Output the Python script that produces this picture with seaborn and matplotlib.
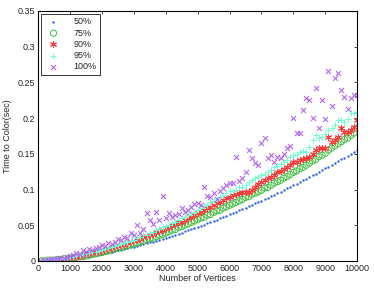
import matplotlib
matplotlib.use("Agg")
import matplotlib.pyplot as plt
import seaborn as sns
import pandas as pd

# ── Data ─────────────────────────────────────────────────────────────────────
VERTICES = list(range(100, 10001, 100))

T50 = [0.0001, 0.0002, 0.0004, 0.0007, 0.0010, 0.0013, 0.0017, 0.0021, 0.0026, 0.0031,
       0.0036, 0.0042, 0.0048, 0.0055, 0.0062, 0.0069, 0.0076, 0.0084, 0.0092, 0.0100,
       0.0109, 0.0118, 0.0127, 0.0137, 0.0147, 0.0157, 0.0167, 0.0178, 0.0189, 0.0200,
       0.0211, 0.0223, 0.0235, 0.0247, 0.0259, 0.0272, 0.0285, 0.0298, 0.0312, 0.0326,
       0.0340, 0.0354, 0.0368, 0.0383, 0.0398, 0.0413, 0.0428, 0.0444, 0.0460, 0.0477,
       0.0493, 0.0510, 0.0527, 0.0544, 0.0561, 0.0579, 0.0597, 0.0615, 0.0633, 0.0651,
       0.0670, 0.0689, 0.0708, 0.0727, 0.0747, 0.0766, 0.0786, 0.0806, 0.0825, 0.0845,
       0.0866, 0.0887, 0.0908, 0.0929, 0.0951, 0.0972, 0.0994, 0.1016, 0.1038, 0.1061,
       0.1084, 0.1107, 0.1130, 0.1153, 0.1176, 0.1200, 0.1224, 0.1248, 0.1272, 0.1296,
       0.1321, 0.1346, 0.1371, 0.1396, 0.1421, 0.1447, 0.1472, 0.1498, 0.1524, 0.1550]

T75 = [0.000, 0.000, 0.001, 0.001, 0.001, 0.002, 0.002, 0.003, 0.003, 0.004,
       0.004, 0.005, 0.006, 0.006, 0.007, 0.008, 0.009, 0.010, 0.011, 0.012,
       0.013, 0.014, 0.015, 0.017, 0.018, 0.019, 0.020, 0.021, 0.023, 0.024,
       0.025, 0.027, 0.028, 0.030, 0.031, 0.032, 0.034, 0.036, 0.037, 0.039,
       0.041, 0.043, 0.044, 0.047, 0.048, 0.050, 0.052, 0.054, 0.056, 0.058,
       0.060, 0.061, 0.064, 0.065, 0.068, 0.070, 0.071, 0.074, 0.076, 0.078,
       0.080, 0.082, 0.084, 0.086, 0.089, 0.090, 0.093, 0.095, 0.097, 0.099,
       0.102, 0.103, 0.106, 0.109, 0.111, 0.113, 0.116, 0.118, 0.121, 0.124,
       0.126, 0.129, 0.131, 0.134, 0.137, 0.140, 0.142, 0.146, 0.148, 0.151,
       0.155, 0.158, 0.161, 0.164, 0.167, 0.170, 0.172, 0.176, 0.179, 0.186]

T90 = [0.000, 0.000, 0.001, 0.001, 0.001, 0.002, 0.002, 0.003, 0.004, 0.004,
       0.005, 0.006, 0.007, 0.008, 0.009, 0.010, 0.011, 0.012, 0.013, 0.014,
       0.015, 0.017, 0.018, 0.019, 0.021, 0.022, 0.023, 0.025, 0.026, 0.028,
       0.030, 0.031, 0.033, 0.035, 0.036, 0.038, 0.040, 0.042, 0.044, 0.046,
       0.047, 0.050, 0.052, 0.054, 0.055, 0.058, 0.060, 0.062, 0.064, 0.067,
       0.069, 0.071, 0.074, 0.076, 0.078, 0.081, 0.083, 0.085, 0.088, 0.090,
       0.092, 0.094, 0.095, 0.096, 0.096, 0.097, 0.100, 0.104, 0.108, 0.110,
       0.113, 0.116, 0.118, 0.121, 0.124, 0.126, 0.129, 0.131, 0.134, 0.138,
       0.138, 0.141, 0.143, 0.144, 0.146, 0.150, 0.155, 0.158, 0.158, 0.158,
       0.174, 0.167, 0.170, 0.174, 0.186, 0.181, 0.181, 0.183, 0.188, 0.197]

T95 = [0.000, 0.001, 0.001, 0.001, 0.002, 0.002, 0.003, 0.004, 0.004, 0.005,
       0.006, 0.007, 0.008, 0.009, 0.010, 0.011, 0.012, 0.013, 0.014, 0.015,
       0.017, 0.018, 0.019, 0.021, 0.022, 0.024, 0.025, 0.027, 0.028, 0.030,
       0.032, 0.034, 0.036, 0.037, 0.039, 0.041, 0.043, 0.045, 0.047, 0.049,
       0.051, 0.053, 0.055, 0.058, 0.060, 0.062, 0.064, 0.067, 0.069, 0.072,
       0.074, 0.077, 0.079, 0.082, 0.084, 0.087, 0.090, 0.092, 0.095, 0.098,
       0.098, 0.100, 0.103, 0.104, 0.106, 0.110, 0.113, 0.116, 0.118, 0.121,
       0.122, 0.125, 0.128, 0.131, 0.133, 0.136, 0.139, 0.142, 0.145, 0.148,
       0.150, 0.152, 0.154, 0.153, 0.160, 0.169, 0.176, 0.172, 0.174, 0.178,
       0.183, 0.186, 0.190, 0.197, 0.197, 0.195, 0.199, 0.207, 0.207, 0.209]

T100 = [0.000, 0.001, 0.001, 0.002, 0.002, 0.003, 0.004, 0.004, 0.006, 0.007,
        0.008, 0.011, 0.010, 0.015, 0.013, 0.017, 0.016, 0.018, 0.019, 0.022,
        0.021, 0.025, 0.024, 0.027, 0.031, 0.029, 0.033, 0.032, 0.039, 0.036,
        0.050, 0.039, 0.045, 0.067, 0.057, 0.052, 0.069, 0.058, 0.091, 0.060,
        0.067, 0.062, 0.064, 0.066, 0.074, 0.068, 0.071, 0.076, 0.080, 0.081,
        0.078, 0.104, 0.091, 0.090, 0.095, 0.087, 0.098, 0.102, 0.106, 0.109,
        0.109, 0.146, 0.112, 0.116, 0.125, 0.155, 0.144, 0.137, 0.134, 0.165,
        0.172, 0.144, 0.148, 0.139, 0.146, 0.144, 0.150, 0.158, 0.161, 0.200,
        0.179, 0.179, 0.211, 0.228, 0.225, 0.200, 0.242, 0.186, 0.225, 0.199,
        0.266, 0.217, 0.256, 0.263, 0.239, 0.230, 0.213, 0.228, 0.232, 0.232]

LABELS = ["50%", "75%", "90%", "95%", "100%"]
SERIES = [T50, T75, T90, T95, T100]

# ── Style ────────────────────────────────────────────────────────────────────
sns.set_style("white")
plt.rcParams.update({
    "font.family": ["Liberation Sans", "DejaVu Sans"],
    "font.size": 6.5,
    "xtick.direction": "in", "ytick.direction": "in",
    "xtick.top": True, "ytick.right": True,
    "xtick.major.size": 2.5, "ytick.major.size": 2.5,
    "xtick.major.width": 0.6, "ytick.major.width": 0.6,
    "axes.linewidth": 0.8, "axes.edgecolor": "black",
})

# marker, colour, size
STYLES = {
    "50%":  ("o", "#2F64F5", 3),
    "75%":  ("o", "#3DBE3D", 20),
    "90%":  ((6, 2, 0), "#FF3B3B", 20),
    "95%":  ("+", "#6FFFD0", 24),
    "100%": ("x", "#B060F8", 13),
}

df = pd.DataFrame({"Vertices": VERTICES * len(LABELS),
                   "Time": [v for s in SERIES for v in s],
                   "Pct": [l for l in LABELS for _ in VERTICES]})

fig = plt.figure(figsize=(3.74, 2.88), dpi=100)
ax = fig.add_axes([0.102, 0.094, 0.853, 0.868])

for lab in LABELS:
    mk, col, sz = STYLES[lab]
    d = df[df["Pct"] == lab]
    if lab == "75%":
        sns.scatterplot(data=d, x="Vertices", y="Time", ax=ax, marker=mk, s=sz,
                        facecolors="none", edgecolor=col, linewidth=0.7, label=lab)
    elif lab == "50%":
        sns.scatterplot(data=d, x="Vertices", y="Time", ax=ax, marker=mk, s=sz,
                        color=col, edgecolor=col, linewidth=0, label=lab)
    else:
        sns.scatterplot(data=d, x="Vertices", y="Time", ax=ax, marker=mk, s=sz,
                        color=col, linewidth=0.75, label=lab)

ax.set_xlim(0, 10000)
ax.set_ylim(0, 0.35)
ax.set_xticks(range(0, 10001, 1000))
ax.set_yticks([0, 0.05, 0.1, 0.15, 0.2, 0.25, 0.3, 0.35])
ax.set_yticklabels(["0", "0.05", "0.1", "0.15", "0.2", "0.25", "0.3", "0.35"])
ax.tick_params(labelsize=6.5, pad=2)
for sp in ax.spines.values():
    sp.set_visible(True)
    sp.set_color("black")
ax.set_xlabel("Number of Vertices", fontsize=6.5, labelpad=1)
ax.set_ylabel("Time to Color(sec)", fontsize=6.5, labelpad=4)

leg = ax.legend(loc="upper left", fontsize=6.5, frameon=True, fancybox=False,
                edgecolor="black", borderpad=0.4, handletextpad=1.2,
                labelspacing=0.25, borderaxespad=0.3, markerscale=1.0)
leg.get_frame().set_linewidth(0.7)

fig.savefig("out.png", dpi=100)
